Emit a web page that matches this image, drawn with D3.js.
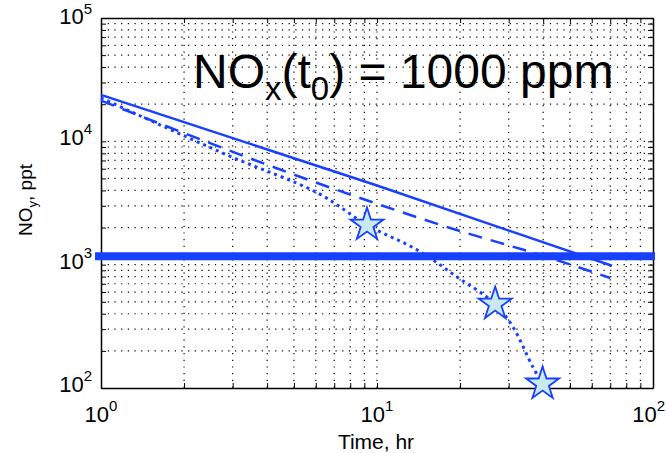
<!DOCTYPE html>
<html>
<head>
<meta charset="utf-8">
<script src="https://cdn.jsdelivr.net/npm/d3@7.9.0/dist/d3.min.js"></script>
<style>
  html, body { margin: 0; padding: 0; background: #fff; }
  svg { display: block; font-family: "Liberation Sans", Arial, sans-serif; }
  .grid line { stroke: #000; stroke-width: 1.2; stroke-dasharray: 1.2,5.5; }
  .axis path, .axis line { stroke: #000; }
  .axis path { stroke-width: 1.5; }
</style>
</head>
<body>
<div id="chart"></div>
<script>
// ---------- data ----------
const xDecades = [1, 10, 100];
const xExponents = ["0", "1", "2"];
const yDecades = [100, 1000, 10000, 100000];
const yExponents = ["2", "3", "4", "5"];

// solid line
const solidT = [1, 10, 71];
const solidV = [23800, 4380, 980];

// dashed line
const dashT = [1, 7.5, 18.4, 42.4, 70];
const dashV = [21400, 3890, 1985, 1133, 780];

// dotted line
const dotT = [1, 2.86, 6.1, 9.2, 14.0, 19.5, 26.8, 31.1, 36.7, 39.8];
const dotV = [22500, 7760, 3810, 2100, 1315, 795, 480, 312, 148, 108];

// star markers on the dotted line
const starT = [9.2, 26.8, 39.8];
const starV = [2100, 480, 108];

// thick horizontal reference level
const refLevel = 1170;

// ---------- layout ----------
const width = 666, height = 453;
const area = { left: 101, right: 653, top: 18, bottom: 388 };
const blue = "#1741ff";

const svg = d3.select("#chart").append("svg")
  .attr("width", width).attr("height", height);

const x = d3.scaleLog().domain([1, 100]).range([area.left, area.right]);
const y = d3.scaleLog().domain([100, 100000]).range([area.bottom, area.top]);

// all ticks (major + minor) for log axes
function logTicks(decades) {
  const out = [];
  decades.forEach((d, i) => {
    if (i === decades.length - 1) { out.push(d); return; }
    for (let k = 1; k <= 9; k++) out.push(d * k);
  });
  return out;
}
const xTicks = logTicks(xDecades);
const yTicks = logTicks(yDecades);

// ---------- grid ----------
const grid = svg.append("g").attr("class", "grid");
grid.selectAll("line.v")
  .data(xTicks.filter(t => t > 1 && t < 100))
  .join("line")
  .attr("class", "v")
  .attr("x1", d => x(d)).attr("x2", d => x(d))
  .attr("y1", area.top).attr("y2", area.bottom);
grid.selectAll("line.h")
  .data(yTicks.filter(t => t > 100 && t < 100000))
  .join("line")
  .attr("class", "h")
  .attr("x1", area.left).attr("x2", area.right)
  .attr("y1", d => y(d)).attr("y2", d => y(d));

// ---------- axes (inward ticks on all sides) ----------
const tick = 5;
svg.append("g").attr("class", "axis")
  .attr("transform", `translate(0,${area.bottom})`)
  .call(d3.axisBottom(x).tickValues(xTicks).tickSize(-tick).tickSizeOuter(0).tickFormat(""));
svg.append("g").attr("class", "axis")
  .attr("transform", `translate(0,${area.top})`)
  .call(d3.axisTop(x).tickValues(xTicks).tickSize(-tick).tickSizeOuter(0).tickFormat(""));
svg.append("g").attr("class", "axis")
  .attr("transform", `translate(${area.left},0)`)
  .call(d3.axisLeft(y).tickValues(yTicks).tickSize(-tick).tickSizeOuter(0).tickFormat(""));
svg.append("g").attr("class", "axis")
  .attr("transform", `translate(${area.right},0)`)
  .call(d3.axisRight(y).tickValues(yTicks).tickSize(-tick).tickSizeOuter(0).tickFormat(""));

// tick labels 10^n (edge labels nudged so they stay inside the picture)
const xl = svg.append("g").attr("fill", "#000").attr("font-size", 22);
xDecades.forEach((d, i) => {
  const last = i === xDecades.length - 1;
  const t = xl.append("text")
    .attr("x", last ? width - 1 : x(d)).attr("y", 422)
    .attr("text-anchor", last ? "end" : "middle");
  t.append("tspan").text("10");
  t.append("tspan").attr("font-size", 15).attr("dy", -11).text(xExponents[i]);
});
const yl = svg.append("g").attr("fill", "#000").attr("font-size", 22);
yDecades.forEach((d, i) => {
  const top = i === yDecades.length - 1;
  const t = yl.append("text")
    .attr("x", 92).attr("y", y(d) + (top ? 6 : 4))
    .attr("text-anchor", "end");
  t.append("tspan").text("10");
  t.append("tspan").attr("font-size", 15).attr("dy", top ? -10 : -11).text(yExponents[i]);
});

// ---------- series ----------
const line = d3.line().x(d => x(d[0])).y(d => y(d[1]));

svg.append("path")
  .datum(d3.zip(solidT, solidV))
  .attr("d", line)
  .attr("fill", "none").attr("stroke", blue).attr("stroke-width", 2.5);

svg.append("path")
  .datum(d3.zip(dashT, dashV))
  .attr("d", line.curve(d3.curveMonotoneX))
  .attr("fill", "none").attr("stroke", blue).attr("stroke-width", 2.5)
  .attr("stroke-dasharray", "14,9");

svg.append("path")
  .datum(d3.zip(dotT, dotV))
  .attr("d", d3.line().x(d => x(d[0])).y(d => y(d[1])).curve(d3.curveCatmullRom))
  .attr("fill", "none").attr("stroke", blue).attr("stroke-width", 3)
  .attr("stroke-dasharray", "3,4");

// thick reference line
svg.append("line")
  .attr("x1", area.left - 6).attr("x2", area.right + 2)
  .attr("y1", y(refLevel)).attr("y2", y(refLevel))
  .attr("stroke", blue).attr("stroke-width", 8);

// stars
svg.append("g").selectAll("path")
  .data(d3.zip(starT, starV))
  .join("path")
  .attr("transform", d => `translate(${x(d[0])},${y(d[1])})`)
  .attr("d", d3.symbol(d3.symbolStar, 340))
  .attr("fill", "#c9e9ee").attr("stroke", blue).attr("stroke-width", 1.8);

// ---------- titles ----------
svg.append("text")
  .attr("x", 376).attr("y", 449)
  .attr("text-anchor", "middle").attr("font-size", 21)
  .text("Time, hr");

const yt = svg.append("text")
  .attr("transform", "translate(32,200) rotate(-90)")
  .attr("text-anchor", "middle").attr("font-size", 19);
yt.append("tspan").text("NO");
yt.append("tspan").attr("font-size", 13).attr("dy", 5).text("y");
yt.append("tspan").attr("dy", -5).text(", ppt");

const title = svg.append("text")
  .attr("x", 193).attr("y", 88)
  .attr("font-size", 48).attr("fill", "#000");
title.append("tspan").text("NO");
title.append("tspan").attr("font-size", 33).attr("dy", 12).text("x");
title.append("tspan").attr("dy", -12).text("(t");
title.append("tspan").attr("font-size", 33).attr("dy", 12).text("0");
title.append("tspan").attr("dy", -12).text(") = 1000 ppm");
</script>
</body>
</html>
